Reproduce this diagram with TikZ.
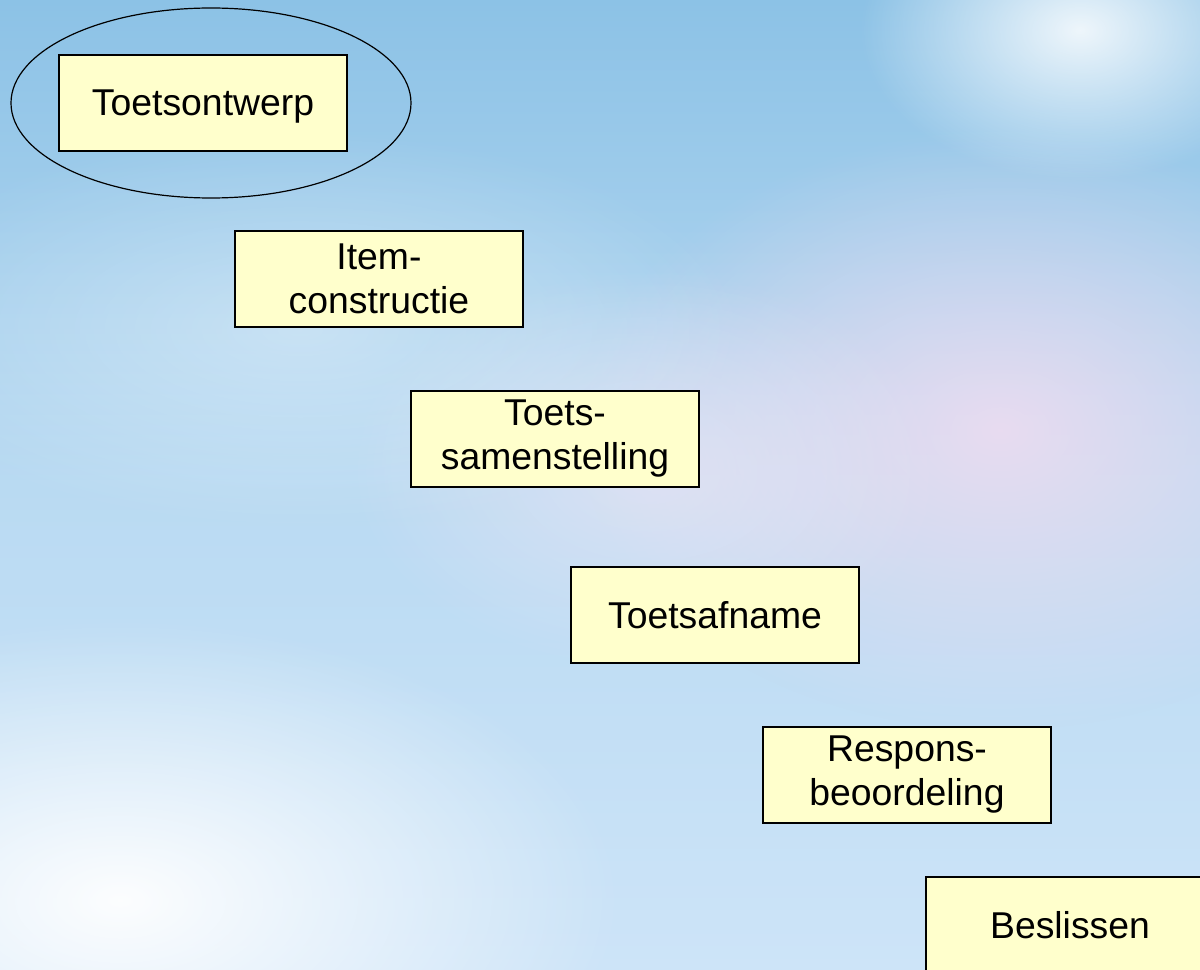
\documentclass[tikz,border=0pt]{standalone}
\usepackage{fontspec}
\setmainfont{Liberation Sans}
\usetikzlibrary{shapes.geometric,fadings}
\definecolor{bgtop}{RGB}{140,194,230}
\definecolor{bgmid}{RGB}{185,218,242}
\definecolor{bgbot}{RGB}{205,228,248}
\definecolor{pinkglow}{RGB}{238,220,240}
\definecolor{boxfill}{RGB}{255,255,204}
\tikzfading[name=softglow, inner color=transparent!0, outer color=transparent!100]
\tikzset{
  stepbox/.style={draw=black, line width=1.2pt, fill=boxfill, minimum width=216pt, minimum height=72pt,
    inner sep=0pt, align=center, font=\fontsize{28}{33}\selectfont, text=black},
  onebox/.style={stepbox, text depth=0pt},
  ring/.style={draw=black, line width=0.9pt, ellipse, minimum width=300pt, minimum height=142.5pt, inner sep=0pt}
}
\begin{document}
\begin{tikzpicture}[x=0.75pt,y=-0.75pt]
\useasboundingbox (0,0) rectangle (1200,970);
\begin{scope}
\clip (0,0) rectangle (1200,970);
\shade[top color=bgtop, bottom color=bgbot, middle color=bgmid] (0,0) rectangle (1200,970);
\fill[pinkglow, path fading=softglow, opacity=0.9] (1000,430) ellipse (420 and 300);
\fill[pinkglow!70!white, path fading=softglow, opacity=0.6] (650,470) ellipse (300 and 200);
\fill[white, path fading=softglow, opacity=0.95] (120,900) ellipse (500 and 280);
\fill[white, path fading=softglow, opacity=0.85] (1080,30) ellipse (220 and 150);
\fill[white, path fading=softglow, opacity=0.35] (300,330) ellipse (450 and 200);
\end{scope}
\node[ring] (focus) at (211,103) {};
\node[onebox] (s1) at (203,103) {Toetsontwerp};
\node[stepbox] (s2) at (379,279) {Item-\\constructie};
\node[stepbox] (s3) at (555,439) {Toets-\\samenstelling};
\node[onebox] (s4) at (715,615) {Toetsafname};
\node[stepbox] (s5) at (907,775) {Respons-\\beoordeling};
\node[onebox] (s6) at (1070,925) {Beslissen};
\end{tikzpicture}
\end{document}
